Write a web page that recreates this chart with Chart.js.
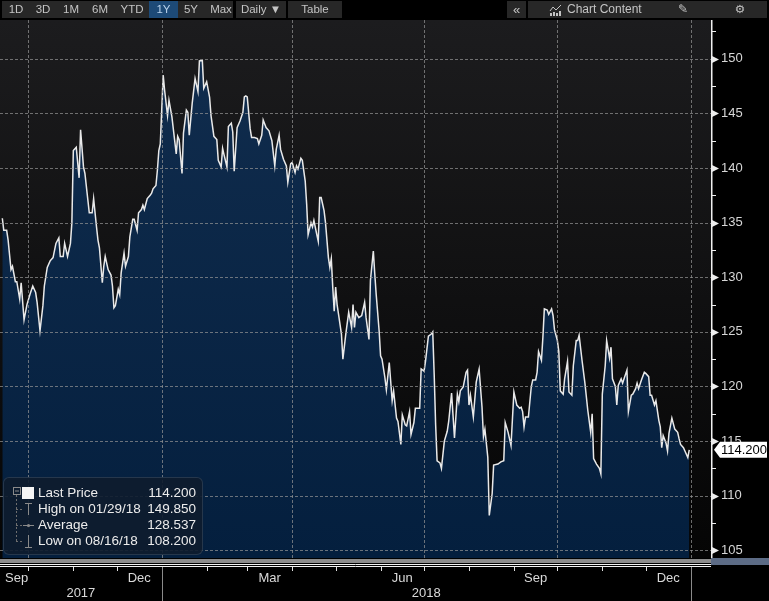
<!DOCTYPE html>
<html>
<head>
<meta charset="utf-8">
<script src="https://cdn.jsdelivr.net/npm/chart.js@4.4.1/dist/chart.umd.min.js"></script>
<style>
  html, body { margin: 0; padding: 0; background: #000; }
  #wrap { position: relative; width: 769px; height: 601px; overflow: hidden; font-family: "Liberation Sans", Arial, sans-serif; }
  #chart { position: absolute; left: 0; top: 0; }
  .tb { position: absolute; top: 1px; height: 17px; background: #272727; }
  .tbt { position: absolute; top: 1px; height: 17px; line-height: 17px; font-size: 11.5px; color: #c4c4c4; text-align: center; white-space: nowrap; }
  #legend { position: absolute; left: 3px; top: 477px; width: 200px; height: 78px; background: rgba(14, 28, 46, 0.9);
            border: 1px solid rgba(60, 78, 100, 0.55); border-radius: 6px; box-sizing: border-box; }
  .lg { position: absolute; height: 16px; line-height: 16px; font-size: 13.5px; color: #ececec; white-space: nowrap; }
  .lv { text-align: right; width: 70px; }
</style>
</head>
<body>
<div id="wrap">
  <canvas id="chart" width="769" height="601"></canvas>

  <!-- toolbar -->
  <div class="tb" style="left:2px;width:231px"></div>
  <div class="tb" style="left:149px;width:29px;background:#1d4a77"></div>
  <div class="tb" style="left:236px;width:50px"></div>
  <div class="tb" style="left:288px;width:54px"></div>
  <div class="tb" style="left:507px;width:19px"></div>
  <div class="tb" style="left:528px;width:239px"></div>
  <span class="tbt" style="left:6px;width:20px">1D</span>
  <span class="tbt" style="left:33px;width:20px">3D</span>
  <span class="tbt" style="left:61px;width:20px">1M</span>
  <span class="tbt" style="left:90px;width:20px">6M</span>
  <span class="tbt" style="left:119px;width:26px">YTD</span>
  <span class="tbt" style="left:149px;width:29px;color:#b9d2ec">1Y</span>
  <span class="tbt" style="left:181px;width:20px">5Y</span>
  <span class="tbt" style="left:208px;width:26px">Max</span>
  <span class="tbt" style="left:236px;width:50px">Daily &#9660;</span>
  <span class="tbt" style="left:288px;width:54px">Table</span>
  <span class="tbt" style="left:507px;width:19px;font-size:13px">&laquo;</span>
  <svg style="position:absolute;left:549px;top:4px" width="14" height="12">
    <polyline points="1,7 4,3 7,6 12,1" fill="none" stroke="#c4c4c4" stroke-width="1"/>
    <rect x="1" y="9" width="2" height="3" fill="#c4c4c4"/><rect x="4" y="8" width="2" height="4" fill="#c4c4c4"/>
    <rect x="7" y="9" width="2" height="3" fill="#c4c4c4"/><rect x="10" y="7" width="2" height="5" fill="#c4c4c4"/>
  </svg>
  <span class="tbt" style="left:567px;width:80px;text-align:left;font-size:12px">Chart Content</span>
  <span class="tbt" style="left:676px;width:14px">&#9998;</span>
  <span class="tbt" style="left:733px;width:14px;font-family:'DejaVu Sans'">&#9881;</span>

  <!-- legend box -->
  <div id="legend"></div>
  <svg style="position:absolute;left:0;top:477px" width="40" height="78">
    <rect x="13.5" y="10.5" width="7" height="7" fill="none" stroke="#8a8a8a"/>
    <line x1="15" y1="14" x2="19" y2="14" stroke="#8a8a8a"/>
    <rect x="22" y="10" width="12" height="12" fill="#f4f4f4"/>
    <line x1="16.5" y1="18" x2="16.5" y2="64" stroke="#6e6e6e" stroke-dasharray="2,2"/>
    <line x1="16" y1="32.5" x2="22" y2="32.5" stroke="#6e6e6e" stroke-dasharray="2,2"/>
    <line x1="16" y1="48.5" x2="22" y2="48.5" stroke="#6e6e6e" stroke-dasharray="2,2"/>
    <line x1="16" y1="64.5" x2="22" y2="64.5" stroke="#6e6e6e" stroke-dasharray="2,2"/>
    <line x1="25" y1="26.5" x2="32" y2="26.5" stroke="#8a8a8a"/>
    <line x1="28.5" y1="26" x2="28.5" y2="38" stroke="#8a8a8a"/>
    <line x1="23" y1="48.5" x2="34" y2="48.5" stroke="#8a8a8a"/>
    <circle cx="28.5" cy="48.5" r="1.6" fill="#8a8a8a"/>
    <line x1="28.5" y1="58" x2="28.5" y2="70" stroke="#8a8a8a"/>
    <line x1="25" y1="70.5" x2="32" y2="70.5" stroke="#8a8a8a"/>
  </svg>
  <span class="lg" style="left:38px;top:485px">Last Price</span>
  <span class="lg lv" style="left:126px;top:485px">114.200</span>
  <span class="lg" style="left:38px;top:501px">High on 01/29/18</span>
  <span class="lg lv" style="left:126px;top:501px">149.850</span>
  <span class="lg" style="left:38px;top:517px">Average</span>
  <span class="lg lv" style="left:126px;top:517px">128.537</span>
  <span class="lg" style="left:38px;top:533px">Low on 08/16/18</span>
  <span class="lg lv" style="left:126px;top:533px">108.200</span>
</div>

<script>
// Price history (days counted from 2017-09-01)
const startDate = "2017-09-01";
const dayOffsets = [
  11, 12, 14, 15, 17, 18, 20, 21, 23, 24, 26, 28, 30, 32, 34, 35, 37, 39, 40, 42,
  44, 46, 48, 50, 51, 53, 54, 56, 58, 59, 60, 62, 64, 65, 67, 68, 70, 71, 73, 74,
  76, 77, 78, 80, 81, 82, 84, 86, 87, 88, 89, 91, 92, 93, 95, 96, 98, 99, 101, 102,
  104, 105, 107, 108, 109, 111, 113, 114, 115, 117, 118, 119, 120, 122, 123, 125, 126, 128, 131, 132,
  133, 135, 136, 138, 139, 140, 142, 144, 146, 147, 149, 150, 152, 154, 155, 157, 159, 160, 162, 163,
  164, 166, 167, 169, 170, 171, 173, 175, 177, 178, 179, 180, 182, 183, 185, 187, 188, 190, 191, 193,
  195, 197, 199, 200, 202, 203, 205, 207, 208, 210, 211, 213, 214, 215, 217, 218, 220, 221, 222, 224,
  225, 226, 228, 229, 230, 231, 233, 234, 236, 237, 238, 239, 240, 241, 242, 243, 245, 246, 248, 250,
  252, 253, 254, 255, 257, 259, 261, 262, 264, 265, 267, 268, 269, 271, 272, 273, 275, 276, 278, 280,
  281, 283, 284, 286, 287, 289, 290, 292, 293, 295, 296, 298, 299, 300, 302, 303, 305, 307, 308, 309,
  310, 311, 313, 314, 316, 318, 319, 321, 323, 325, 326, 327, 329, 331, 332, 333, 334, 336, 338, 340,
  342, 343, 344, 346, 347, 349, 350, 353, 355, 357, 358, 360, 362, 364, 366, 368, 369, 370, 371, 372,
  374, 376, 377, 379, 380, 381, 383, 384, 385, 387, 388, 390, 391, 392, 394, 395, 396, 398, 399, 401,
  402, 404, 405, 407, 408, 409, 411, 413, 415, 417, 418, 419, 421, 423, 424, 425, 427, 428, 430, 431,
  432, 434, 435, 436, 438, 439, 440, 442, 443, 445, 446, 448, 449, 450, 452, 454, 455, 457, 458, 459,
  461, 462, 464, 465, 466, 467, 469, 470, 471, 473, 475, 477, 478, 479, 481, 482, 484, 485
];
const prices = [
  135.4, 134.3, 134.3, 133.4, 130.7, 131.0, 129.6, 129.6, 128.0, 129.5, 126.1, 127.5, 128.4, 129.2, 128.6, 127.7, 125.1, 127.4, 129.2, 130.9,
  131.5, 131.8, 133.1, 133.6, 131.9, 131.9, 133.1, 131.9, 133.1, 135.0, 141.6, 141.9, 139.1, 143.5, 140.1, 139.5, 137.1, 135.9, 135.9, 137.2,
  134.6, 133.4, 132.7, 129.5, 131.0, 131.9, 130.7, 130.2, 129.2, 127.2, 127.4, 128.9, 128.4, 130.4, 132.2, 131.0, 131.9, 133.7, 135.3, 135.3,
  134.3, 135.9, 136.2, 136.6, 136.2, 137.2, 137.5, 137.7, 138.1, 138.4, 139.8, 141.6, 142.2, 148.5, 147.1, 144.8, 146.2, 144.7, 141.3, 142.9,
  142.6, 139.5, 143.2, 145.3, 145.1, 143.0, 145.9, 148.2, 147.0, 149.8, 149.85, 147.3, 147.9, 146.5, 144.8, 142.9, 142.6, 140.7, 140.1, 141.8,
  141.2, 140.1, 143.8, 144.1, 143.3, 139.7, 143.7, 144.3, 145.1, 146.5, 146.6, 146.5, 143.6, 142.8, 142.8, 142.7, 142.2, 143.0, 144.4, 143.7,
  143.4, 142.5, 140.2, 141.7, 143.0, 141.7, 140.8, 140.2, 138.7, 140.4, 140.5, 139.6, 140.2, 139.9, 140.9, 140.7, 138.8, 136.7, 133.9, 135.0,
  134.6, 135.2, 133.9, 133.3, 137.3, 137.3, 136.1, 135.0, 131.8, 130.9, 131.7, 129.1, 126.9, 129.1, 127.5, 126.6, 124.8, 122.5, 124.8, 126.8,
  125.4, 127.5, 125.4, 126.8, 126.3, 126.5, 127.7, 126.3, 124.3, 129.7, 132.4, 130.3, 128.4, 125.1, 122.8, 122.5, 120.8, 119.7, 122.2, 118.7,
  119.6, 117.1, 116.8, 114.7, 117.4, 116.5, 116.4, 117.7, 115.6, 116.7, 118.0, 118.0, 118.0, 121.6, 121.4, 122.3, 124.6, 124.8, 125.0, 121.1,
  116.5, 113.2, 113.0, 112.5, 115.0, 115.9, 116.8, 119.4, 115.3, 119.3, 118.6, 119.6, 119.95, 121.3, 121.5, 118.3, 119.2, 117.2, 120.4, 121.6,
  118.1, 115.4, 116.1, 113.5, 108.2, 110.2, 112.8, 112.9, 113.1, 113.2, 116.7, 115.8, 114.6, 119.5, 118.3, 118.0, 118.1, 117.7, 116.3, 117.2,
  117.2, 120.0, 120.6, 120.6, 121.3, 123.2, 122.4, 124.5, 127.1, 127.0, 126.6, 127.1, 126.5, 125.2, 124.2, 123.2, 119.6, 119.3, 120.7, 122.3,
  119.5, 119.2, 121.9, 124.2, 124.2, 124.7, 122.4, 120.3, 117.8, 115.8, 117.5, 113.4, 112.9, 112.5, 112.0, 119.3, 121.9, 124.2, 122.6, 123.6,
  120.7, 120.0, 118.3, 120.1, 120.7, 120.3, 120.7, 121.5, 117.7, 119.2, 119.3, 119.8, 120.3, 119.8, 120.6, 121.3, 121.2, 120.9, 119.2, 119.2,
  118.3, 118.7, 116.9, 116.3, 114.4, 115.5, 114.8, 114.1, 115.7, 117.1, 116.1, 115.8, 115.2, 114.7, 114.4, 114.1, 113.5, 114.2
];
const lastPrice = 114.2;

// Axis labels
const yLabels = [105, 110, 115, 120, 125, 130, 135, 140, 145, 150];
const monthEnds = ["2017-09-30", "2017-10-31", "2017-11-30", "2017-12-31", "2018-01-31", "2018-02-28", "2018-03-31",
  "2018-04-30", "2018-05-31", "2018-06-30", "2018-07-31", "2018-08-31", "2018-09-30", "2018-10-31", "2018-11-30", "2018-12-31"];
const quarterEnds = ["2017-09-30", "2017-12-31", "2018-03-31", "2018-06-30", "2018-09-30", "2018-12-31"];
const monthLabels = [["Sep", "2017-08-31", "2017-09-30"], ["Dec", "2017-11-30", "2017-12-31"], ["Mar", "2018-02-28", "2018-03-31"],
  ["Jun", "2018-05-31", "2018-06-30"], ["Sep", "2018-08-31", "2018-09-30"], ["Dec", "2018-11-30", "2018-12-31"]];
const yearLabels = [["2017", "2017-08-31", "2017-12-31"], ["2018", "2017-12-31", "2018-12-31"]];

function dayOf(s) {
  return (Date.parse(s + "T00:00:00Z") - Date.parse(startDate + "T00:00:00Z")) / 86400000;
}

const points = dayOffsets.map((d, i) => ({ x: d, y: prices[i] }));

// Background, dashed grid, axis marks, price tag and the date strip
const terminalPlugin = {
  id: "terminal",
  beforeDraw(chart) {
    const { ctx, chartArea: a } = chart;
    ctx.save();
    ctx.fillStyle = "#000";
    ctx.fillRect(0, 0, chart.width, chart.height);
    const g = ctx.createLinearGradient(0, a.top, 0, a.bottom);
    g.addColorStop(0, "#1c1c1e");
    g.addColorStop(1, "#050505");
    ctx.fillStyle = g;
    ctx.fillRect(a.left, a.top, a.right - a.left, a.bottom - a.top);
    ctx.restore();
  },
  afterDatasetsDraw(chart) {
    const { ctx, chartArea: a, scales: { x, y } } = chart;
    ctx.save();
    ctx.strokeStyle = "rgba(150,150,150,0.7)";
    ctx.lineWidth = 1;
    ctx.setLineDash([3, 2]);
    yLabels.forEach(v => {
      const py = Math.round(y.getPixelForValue(v)) + 0.5;
      ctx.beginPath(); ctx.moveTo(a.left, py); ctx.lineTo(a.right, py); ctx.stroke();
    });
    quarterEnds.forEach(s => {
      const px = Math.round(x.getPixelForValue(dayOf(s))) + 0.5;
      ctx.beginPath(); ctx.moveTo(px, a.top); ctx.lineTo(px, a.bottom); ctx.stroke();
    });
    ctx.restore();
  },
  afterDraw(chart) {
    const { ctx, chartArea: a, scales: { x, y } } = chart;
    ctx.save();
    // axis line
    ctx.strokeStyle = "#f0f0f0";
    ctx.lineWidth = 1.5;
    ctx.beginPath(); ctx.moveTo(a.right + 0.75, a.top); ctx.lineTo(a.right + 0.75, a.bottom); ctx.stroke();
    // tick marks: triangles on labelled values, short dashes between
    ctx.fillStyle = "#ececec";
    ctx.lineWidth = 1;
    for (let v = 105; v <= 152.5; v += 2.5) {
      const py = Math.round(y.getPixelForValue(v)) + 0.5;
      if (v % 5 === 0) {
        ctx.beginPath();
        ctx.moveTo(a.right + 1, py - 3.5); ctx.lineTo(a.right + 8, py); ctx.lineTo(a.right + 1, py + 3.5);
        ctx.closePath(); ctx.fill();
      } else {
        ctx.beginPath(); ctx.moveTo(a.right + 1, py); ctx.lineTo(a.right + 5, py); ctx.stroke();
      }
    }
    // last price tag
    const ly = y.getPixelForValue(lastPrice);
    ctx.fillStyle = "#ffffff";
    ctx.beginPath();
    ctx.moveTo(a.right + 3, ly); ctx.lineTo(a.right + 9, ly - 8); ctx.lineTo(767, ly - 8);
    ctx.lineTo(767, ly + 8); ctx.lineTo(a.right + 9, ly + 8); ctx.closePath(); ctx.fill();
    ctx.fillStyle = "#000";
    ctx.font = "13px 'Liberation Sans', Arial, sans-serif";
    ctx.textBaseline = "middle";
    ctx.textAlign = "left";
    ctx.fillText(lastPrice.toFixed(3), a.right + 10, ly + 0.5);

    // navigator strip under the plot
    const b = a.bottom;
    ctx.fillStyle = "#8b8b8b";
    ctx.fillRect(0, b + 1, a.right, 4);
    ctx.fillStyle = "#5d6c86";
    ctx.fillRect(a.right, b, chart.width - a.right, 7);
    ctx.strokeStyle = "#f2f2f2";
    ctx.beginPath(); ctx.moveTo(0, b + 6.5); ctx.lineTo(a.right, b + 6.5); ctx.stroke();
    ctx.beginPath(); ctx.moveTo(0, b + 8.5); ctx.lineTo(a.right, b + 8.5); ctx.stroke();

    // month ticks
    ctx.strokeStyle = "#e0e0e0";
    monthEnds.forEach(s => {
      const px = Math.round(x.getPixelForValue(dayOf(s))) + 0.5;
      ctx.beginPath(); ctx.moveTo(px, b + 9); ctx.lineTo(px, b + 13); ctx.stroke();
    });
    // year separators
    ctx.strokeStyle = "#8a8a8a";
    [yearLabels[0][2], yearLabels[1][2]].forEach(s => {
      const px = Math.round(x.getPixelForValue(dayOf(s))) + 0.5;
      ctx.beginPath(); ctx.moveTo(px, b + 9); ctx.lineTo(px, chart.height); ctx.stroke();
    });

    // month and year labels
    ctx.fillStyle = "#dadada";
    ctx.font = "13px 'Liberation Sans', Arial, sans-serif";
    ctx.textAlign = "center";
    monthLabels.forEach(([t, s0, s1]) => {
      let cx = (x.getPixelForValue(dayOf(s0)) + x.getPixelForValue(dayOf(s1))) / 2;
      const w = ctx.measureText(t).width;
      cx = Math.max(cx, 5 + w / 2);
      ctx.fillText(t, cx, b + 20);
    });
    yearLabels.forEach(([t, s0, s1]) => {
      const x0 = Math.max(a.left, x.getPixelForValue(dayOf(s0)));
      const x1 = Math.min(a.right, x.getPixelForValue(dayOf(s1)));
      ctx.fillText(t, (x0 + x1) / 2, b + 35);
    });
    ctx.restore();
  }
};

new Chart(document.getElementById("chart"), {
  type: "line",
  data: {
    datasets: [{
      label: "Last Price",
      data: points,
      borderColor: "#e9e9e9",
      borderWidth: 1.5,
      pointRadius: 0,
      tension: 0,
      fill: "start",
      backgroundColor(context) {
        const a = context.chart.chartArea;
        if (!a) return "rgb(10,38,68)";
        const g = context.chart.ctx.createLinearGradient(0, a.top, 0, a.bottom);
        g.addColorStop(0, "rgb(17,45,78)");
        g.addColorStop(1, "rgb(4,31,62)");
        return g;
      }
    }]
  },
  options: {
    responsive: false,
    animation: false,
    devicePixelRatio: 1,
    layout: { padding: { top: 20, bottom: 43, left: 0, right: 0 } },
    plugins: { legend: { display: false }, tooltip: { enabled: false } },
    scales: {
      x: {
        type: "linear",
        display: false,
        min: 9.4,
        max: 500
      },
      y: {
        position: "right",
        min: 104.3,
        max: 153.55,
        grid: { display: false, drawTicks: false, tickLength: 0 },
        border: { display: false },
        afterBuildTicks(scale) {
          scale.ticks = yLabels.map(v => ({ value: v }));
        },
        afterFit(scale) {
          scale.width = 58;
        },
        ticks: {
          padding: 10,
          color: "#d6d6d6",
          font: { family: "'Liberation Sans', Arial, sans-serif", size: 13 }
        }
      }
    }
  },
  plugins: [terminalPlugin]
});
</script>
</body>
</html>
